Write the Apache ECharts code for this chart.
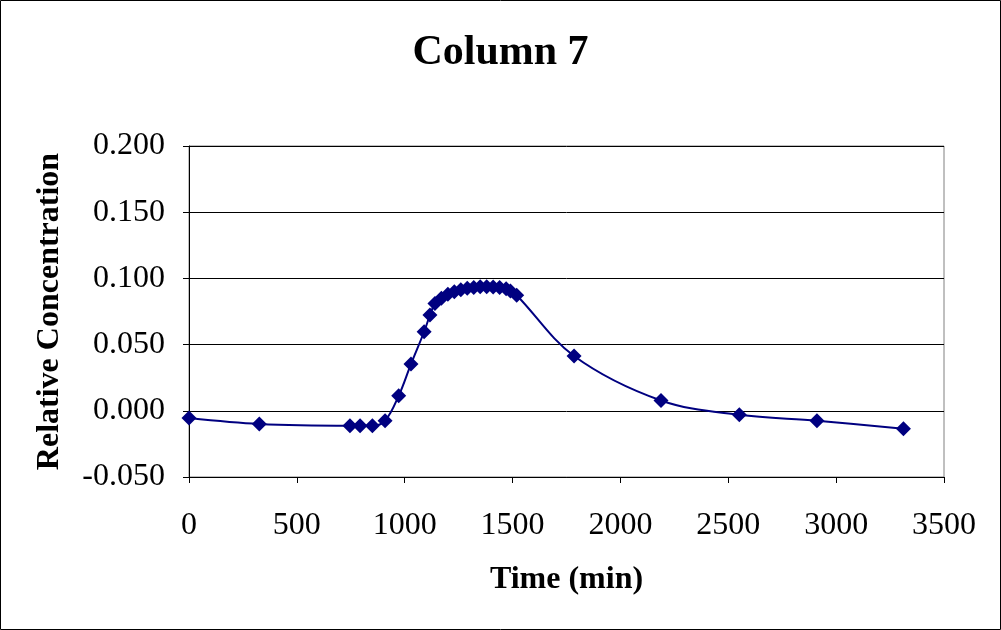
<!DOCTYPE html>
<html>
<head>
<meta charset="utf-8">
<script src="https://cdn.jsdelivr.net/npm/echarts@6/dist/echarts.min.js"></script>
<style>
html,body{margin:0;padding:0;background:#fff;}
#chart{width:1001px;height:630px;}
</style>
</head>
<body>
<div id="chart"></div>
<script>
const titleText = "Column 7";
const xAxisName = "Time (min)";
const yAxisName = "Relative Concentration";
const timeMin = [0, 326, 746, 793, 850, 909, 972, 1029, 1090, 1117, 1140, 1170, 1200, 1230, 1260, 1290, 1320, 1350, 1380, 1410, 1440, 1470, 1490, 1519, 1785, 2188, 2551, 2911, 3312];
const relConc = [-0.0055, -0.0100, -0.0113, -0.0113, -0.0113, -0.0075, 0.0113, 0.0353, 0.0597, 0.0723, 0.0810, 0.0850, 0.0880, 0.0900, 0.0915, 0.0925, 0.0932, 0.0936, 0.0936, 0.0935, 0.0932, 0.0922, 0.0905, 0.0873, 0.0414, 0.0078, -0.0030, -0.0075, -0.0136];
const xTicks = {min: 0, max: 3500, interval: 500};
const yTicks = {min: -0.05, max: 0.2, interval: 0.05};

const chart = echarts.init(document.getElementById('chart'), null, {renderer: 'canvas'});
const serif = '"Liberation Serif", "Times New Roman", serif';
chart.setOption({
  animation: false,
  backgroundColor: '#ffffff',
  title: {
    text: titleText, left: 'center', top: 27,
    textStyle: {fontFamily: serif, fontSize: 42, fontWeight: 'bold', color: '#000'}
  },
  grid: {left: 189, right: 57, top: 146, bottom: 153, show: true, borderColor: '#808080', borderWidth: 1},
  xAxis: {
    type: 'value', min: xTicks.min, max: xTicks.max, interval: xTicks.interval,
    name: xAxisName, nameLocation: 'middle', nameGap: 87,
    nameTextStyle: {fontFamily: serif, fontSize: 32, fontWeight: 'bold', color: '#000'},
    axisLine: {show: true, onZero: false, lineStyle: {color: '#000', width: 1}},
    axisTick: {show: true, inside: false, length: 6, lineStyle: {color: '#000'}},
    axisLabel: {fontFamily: serif, fontSize: 32, color: '#000', margin: 33,
      formatter: v => String(v)},
    splitLine: {show: false}
  },
  yAxis: {
    type: 'value', min: yTicks.min, max: yTicks.max, interval: yTicks.interval,
    name: yAxisName, nameLocation: 'middle', nameGap: 123,
    nameTextStyle: {fontFamily: serif, fontSize: 32, fontWeight: 'bold', color: '#000'},
    axisLine: {show: true, onZero: false, lineStyle: {color: '#000', width: 1}},
    axisTick: {show: true, inside: false, length: 6, lineStyle: {color: '#000'}},
    axisLabel: {fontFamily: serif, fontSize: 32, color: '#000', margin: 24,
      formatter: v => v.toFixed(3)},
    splitLine: {show: true, lineStyle: {color: '#000', width: 1}}
  },
  graphic: [{
    type: 'rect', shape: {x: 0.5, y: 0.5, width: 1000, height: 629},
    style: {fill: 'none', stroke: '#000', lineWidth: 1}, silent: true, z: 100
  }],
  series: [{
    type: 'line',
    data: timeMin.map((t, i) => [t, relConc[i]]),
    smooth: 0.35,
    symbol: 'diamond', symbolSize: 15,
    lineStyle: {color: '#000080', width: 2},
    itemStyle: {color: '#000080', borderWidth: 0}
  }]
});
</script>
</body>
</html>
